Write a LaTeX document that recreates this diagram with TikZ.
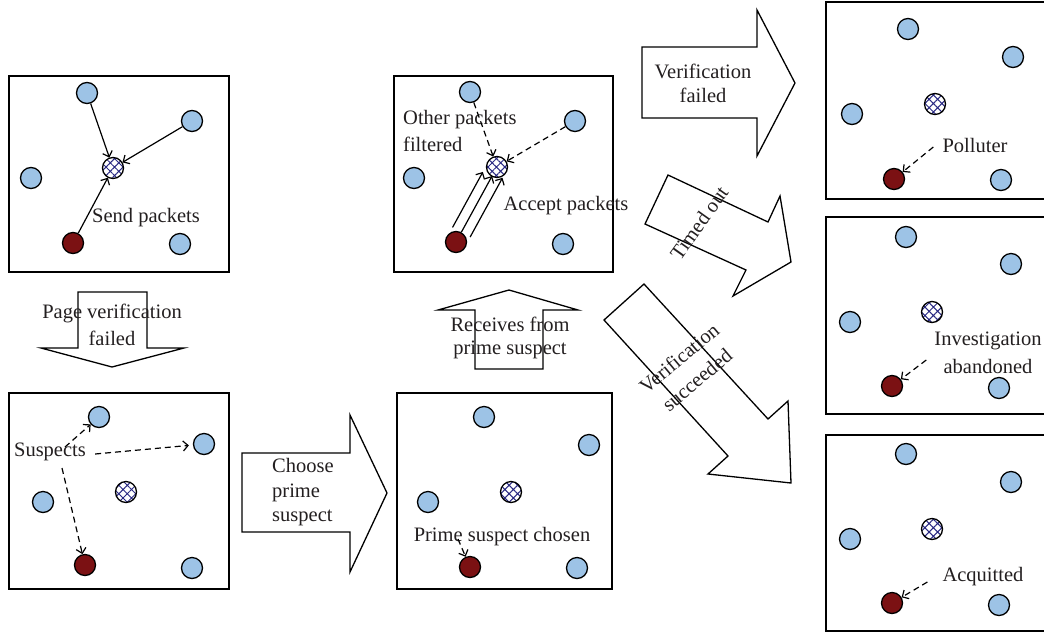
\documentclass[tikz,border=0pt]{standalone}
\usepackage{fontspec}
\setmainfont{Liberation Serif}
\usetikzlibrary{arrows.meta,calc,patterns.meta}
\definecolor{nodeblue}{RGB}{157,195,230}
\definecolor{nodered}{RGB}{123,17,19}
\definecolor{hatchblue}{RGB}{40,40,130}
\definecolor{txt}{RGB}{35,31,32}
\tikzset{
  lbl/.style={font=\fontsize{20.5}{26}\selectfont, text=txt, inner sep=2pt},
  bnode/.style={circle, draw=black, line width=1.3pt, fill=nodeblue, minimum size=21pt, inner sep=0pt},
  rnode/.style={bnode, fill=nodered},
  hnode/.style={circle, draw=black, line width=1.3pt, minimum size=21pt, inner sep=0pt,
     pattern={Hatch[angle=45,distance=6pt,line width=1pt]}, pattern color=hatchblue},
  box/.style={draw=black, line width=1.5pt},
  arr/.style={line width=1.2pt, -{Straight Barb[length=5pt,width=10pt]}},
  darr/.style={arr, dash pattern=on 6pt off 4pt},
  bigarrow/.style={draw=black, line width=1.3pt, line join=miter},
}
\begin{document}
\begin{tikzpicture}[x=1pt,y=-1pt]
\useasboundingbox (0,0) rectangle (1044,638);
\clip (0,0) rectangle (1044,638);
% ---------- boxes ----------
\draw[box] (9,76) rectangle (229,272);
\draw[box] (394,76) rectangle (613,272);
\draw[box] (9,393) rectangle (229,589);
\draw[box] (397,393) rectangle (612,589);
\draw[box] (826,2) rectangle (1060,199);
\draw[box] (826,217) rectangle (1060,414);
\draw[box] (826,435) rectangle (1060,631);

% ---------- box 1 ----------
\node[bnode] (b1a) at (87,93) {};
\node[bnode] (b1b) at (192,121) {};
\node[hnode] (h1) at (113,168) {};
\node[bnode] (b1c) at (31,178) {};
\node[rnode] (r1) at (73,243) {};
\node[bnode] (b1d) at (180,244) {};
\node[lbl] (t1) at (146,218) {Send packets};
\draw[arr] (b1a) -- (h1);
\draw[arr] (b1b) -- (h1);
\draw[arr] (r1) -- (h1);

% ---------- box 2 ----------
\node[bnode] (b2a) at (470,92) {};
\node[bnode] (b2b) at (575,121) {};
\node[hnode] (h2) at (497,167) {};
\node[bnode] (b2c) at (414,178) {};
\node[rnode] (r2) at (456,242) {};
\node[bnode] (b2d) at (563,244) {};
\node[lbl, anchor=west, align=left, font=\fontsize{20.5}{27}\selectfont] (t2a) at (401,130.5) {Other packets\\filtered};
\node[lbl] (t2b) at (566,206) {Accept packets};
\draw[darr] (b2a) -- (h2);
\draw[darr] (b2b) -- (h2);
\draw[arr] ($(r2)!0.13!(h2)+(-8.8,-4.8)$) -- ($(r2)!0.87!(h2)+(-8.8,-4.8)$);
\draw[arr] ($(r2)!0.13!(h2)$) -- ($(r2)!0.88!(h2)$);
\draw[arr] ($(r2)!0.13!(h2)+(8.8,4.8)$) -- ($(r2)!0.92!(h2)+(8.8,4.8)$);

% ---------- box 3 ----------
\node[bnode] (b3a) at (99,417) {};
\node[bnode] (b3b) at (204,444) {};
\node[hnode] (h3) at (126,492) {};
\node[bnode] (b3c) at (43,502) {};
\node[rnode] (r3) at (85,565) {};
\node[bnode] (b3d) at (192,568) {};
\node[lbl] (t3) at (50,452) {Suspects};
\draw[darr] ([shift={(15pt,5pt)}]t3.center) -- (b3a);
\draw[darr, shorten >=4pt] ([shift={(7pt,-2pt)}]t3.east) -- (b3b);
\draw[darr] ([shift={(12pt,-16pt)}]t3.center) -- (r3);

% ---------- box 4 ----------
\node[bnode] (b4a) at (484,417) {};
\node[bnode] (b4b) at (589,445) {};
\node[hnode] (h4) at (511,492) {};
\node[bnode] (b4c) at (428,502) {};
\node[rnode] (r4) at (470,567) {};
\node[bnode] (b4d) at (577,568) {};
\node[lbl] (t4) at (502,537) {Prime suspect chosen};
\draw[darr] ([shift={(-44pt,-2pt)}]t4.center) -- (r4);

% ---------- box 5 ----------
\node[bnode] (b5a) at (908,29) {};
\node[bnode] (b5b) at (1013,57) {};
\node[hnode] (h5) at (935,104) {};
\node[bnode] (b5c) at (852,114) {};
\node[rnode] (r5) at (894,179) {};
\node[bnode] (b5d) at (1001,180) {};
\node[lbl] (t5) at (975,145) {Polluter};
\draw[darr] ([shift={(-7pt,-2pt)}]t5.west) -- (r5);

% ---------- box 6 ----------
\node[bnode] (b6a) at (906,237) {};
\node[bnode] (b6b) at (1011,264) {};
\node[hnode] (h6) at (932,312) {};
\node[bnode] (b6c) at (850,322) {};
\node[rnode] (r6) at (892,386) {};
\node[bnode] (b6d) at (999,388) {};
\node[lbl, align=center, font=\fontsize{20.5}{28}\selectfont] (t6) at (988,353) {Investigation\\abandoned};
\draw[darr] ([shift={(-6pt,-7pt)}]t6.west) -- (r6);

% ---------- box 7 ----------
\node[bnode] (b7a) at (906,454) {};
\node[bnode] (b7b) at (1011,482) {};
\node[hnode] (h7) at (932,529) {};
\node[bnode] (b7c) at (850,539) {};
\node[rnode] (r7) at (892,603) {};
\node[bnode] (b7d) at (999,605) {};
\node[lbl] (t7) at (983,577) {Acquitted};
\draw[darr] ([shift={(-13pt,-5pt)}]t7.west) -- (r7);

% ---------- big arrows ----------
\draw[bigarrow] (78,292) -- (147,292) -- (147,348) -- (184,348) -- (112,367) -- (41,348) -- (78,348) -- cycle;
\node[lbl, align=center, font=\fontsize{20.5}{27}\selectfont] (a1) at (112,324.5) {Page verification\\failed};

\draw[bigarrow] (475,369) -- (543,369) -- (543,310) -- (578,310) -- (509,290) -- (438,310) -- (475,310) -- cycle;
\node[lbl, align=center, font=\fontsize{20.5}{22.5}\selectfont] (a2) at (510,338) {Receives from\\prime suspect};

\draw[bigarrow] (242,453) -- (350,453) -- (350,415) -- (387,493) -- (350,572) -- (350,532) -- (242,532) -- cycle;
\node[lbl, anchor=west, align=left, font=\fontsize{20.5}{24.5}\selectfont] (a3) at (270,492.5) {Choose\\prime\\suspect};

\draw[bigarrow] (642,47) -- (757,47) -- (757,10) -- (795,83) -- (757,156) -- (757,118) -- (642,118) -- cycle;
\node[lbl, align=center, font=\fontsize{20.5}{24}\selectfont] (a4) at (703,83) {Verification\\failed};

\draw[bigarrow] (668,175) -- (768,222) -- (780,196) -- (791,262) -- (733,296) -- (746,270) -- (645,224) -- cycle;
\node[lbl, rotate=54.5] (a5) at (699,223) {Timed out};

\draw[bigarrow] (644,284) -- (768,419) -- (788,401) -- (791,483) -- (708,474) -- (728,456) -- (604,320) -- cycle;
\node[lbl, rotate=40, align=center, font=\fontsize{20.5}{28}\selectfont] (a6) at (688,369) {Verification\\succeeded};
\end{tikzpicture}
\end{document}
